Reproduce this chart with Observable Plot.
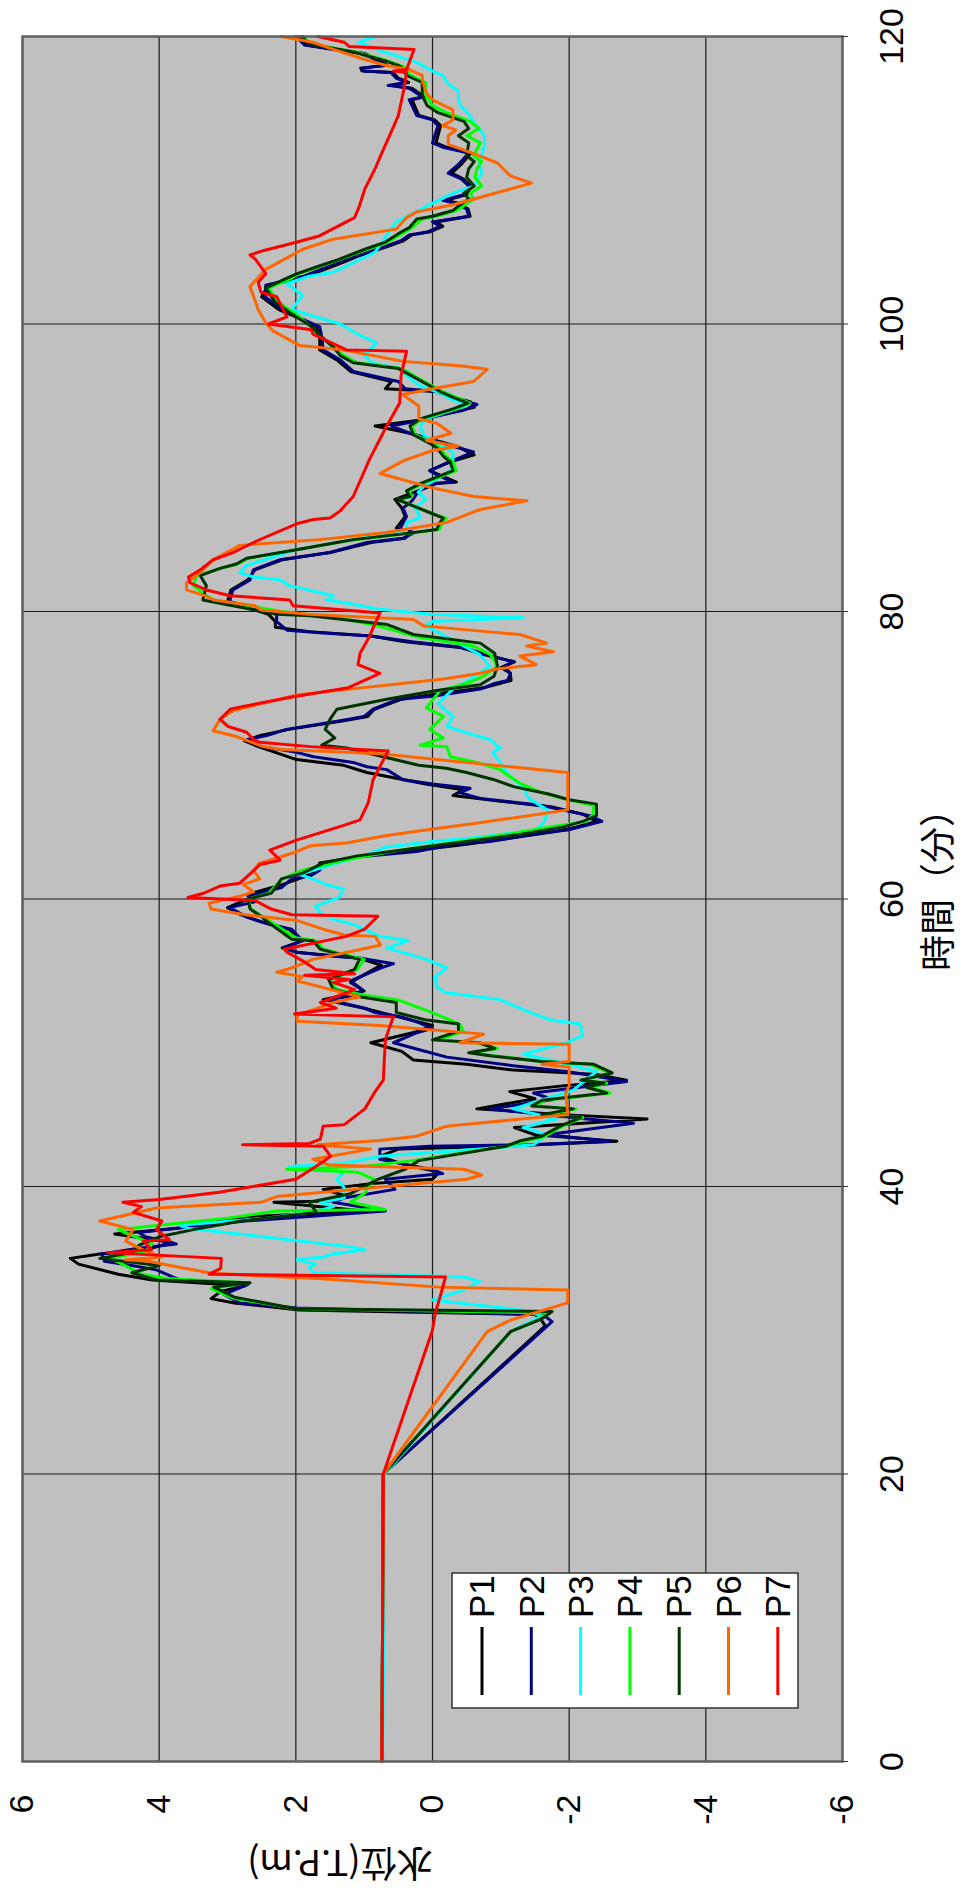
<!DOCTYPE html>
<html><head><meta charset="utf-8">
<script src="https://cdn.jsdelivr.net/npm/d3@7"></script>
<script src="https://cdn.jsdelivr.net/npm/@observablehq/plot@0.6"></script>
<style>
html,body{margin:0;padding:0;background:#fff;}
#page{position:relative;width:977px;height:1892px;overflow:hidden;background:#fff;}
#chart{position:absolute;left:0;top:0;width:1892px;height:977px;transform-origin:0 0;transform:translate(0px,1892px) rotate(-90deg);}
</style></head><body>
<div id="page"><div id="chart"></div></div>
<script>
const seriesNames = ["P1","P2","P3","P4","P5","P6","P7"];
const timeTicks = [0,20,40,60,80,100,120];
const levelTicks = [-6,-4,-2,0,2,4,6];
const xTitle = "時間（分）";
const yTitle = "水位(T.P.m)";

// [time (min), water level (T.P.m)]
const P1 = [[0,0.74],[10,0.73],[20,0.72],[30.3,-1.65],[30.8,-1.58],[31.1,-1.5],[31.4,1.95],[31.9,2.9],[32.2,3.24],[32.7,3.1],[33.1,2.74],[33.5,4.1],[33.9,4.6],[34.6,5.18],[35.0,5.3],[35.3,4.87],[35.6,4.2],[36.1,3.81],[36.7,4.65],[37.1,3.73],[37.9,2.67],[38.3,1.0],[38.9,2.32],[39.0,1.45],[39.4,1.3],[39.8,1.6],[40.2,0.9],[40.5,0.0],[41.0,-0.1],[41.5,0.4],[42.1,0.77],[42.6,0.5],[42.8,-1.0],[43.15,-2.7],[43.6,-1.5],[44.1,-1.2],[44.4,-2.2],[44.7,-3.14],[45.0,-1.9],[45.4,-0.65],[46.1,-1.5],[46.6,-1.13],[47.0,-1.9],[47.4,-2.84],[47.8,-2.4],[48.1,-1.18],[48.5,-0.5],[48.8,0.28],[49.4,0.45],[50.0,0.9],[50.4,0.55],[50.8,0.2],[51.2,0.0],[51.8,0.5],[52.4,1.0],[53.0,1.6],[53.6,1.0],[54.2,1.2],[55.0,0.9],[55.4,0.75],[55.9,1.1],[56.3,2.0],[56.6,2.2],[57.1,1.9],[57.9,2.1],[58.4,2.5],[58.9,2.8],[59.4,3.0],[60.0,2.7],[60.4,2.65],[61.0,2.2],[61.5,1.9],[62.0,1.7],[62.5,1.65],[63.0,1.0],[63.4,0.2],[63.8,-0.5],[64.2,-1.1],[64.7,-1.8],[65.0,-2.1],[65.4,-2.4],[65.9,-2.2],[66.4,-1.75],[66.8,-1.0],[67.2,-0.3],[67.6,-0.45],[68.0,0.1],[68.8,0.96],[69.3,1.3],[69.7,1.99],[70.2,2.3],[70.6,2.55],[71.0,2.75],[71.4,2.5],[71.8,2.1],[72.4,1.3],[72.7,0.95],[73.2,0.85],[73.9,0.45],[74.3,-0.1],[74.7,-0.75],[75.2,-1.15],[75.7,-1.14],[76.1,-1.0],[76.5,-1.2],[77.0,-0.75],[77.5,-0.4],[77.9,0.4],[78.3,0.9],[78.6,1.8],[78.9,2.3],[79.3,2.3],[79.8,2.4],[80.7,3.0],[81.5,2.95],[82.2,2.7],[82.9,2.6],[83.6,2.2],[84.1,1.5],[84.8,0.9],[85.1,0.4],[85.5,0.3],[85.8,0.53],[86.6,0.4],[87.2,0.45],[87.8,0.55],[88.4,0.2],[88.9,-0.05],[89.0,-0.35],[89.4,-0.15],[89.8,0.04],[90.4,-0.25],[90.9,-0.61],[91.5,-0.35],[92.4,0.33],[92.9,0.84],[93.3,0.2],[93.6,-0.05],[94.2,-0.61],[94.6,-0.55],[94.9,-0.3],[95.3,-0.05],[95.5,0.69],[96.0,0.6],[96.7,1.2],[97.5,1.4],[98.2,1.65],[99.1,1.65],[99.8,1.7],[100.2,1.85],[101.0,2.25],[101.9,2.5],[102.7,2.4],[103.3,1.85],[104.3,1.3],[104.7,1.1],[105.4,0.65],[105.8,0.42],[106.2,0.3],[106.4,0.05],[106.8,-0.15],[107.1,-0.05],[107.5,-0.55],[108.0,-0.52],[108.4,-0.38],[108.6,-0.2],[109.0,-0.5],[109.6,-0.56],[110.1,-0.45],[110.5,-0.28],[111.1,-0.42],[111.9,-0.56],[112.3,-0.2],[112.6,-0.05],[113.8,-0.12],[114.2,-0.03],[114.5,0.2],[115.6,0.3],[115.8,0.12],[116.4,0.3],[116.6,0.62],[116.8,0.35],[117.1,0.5],[117.5,0.58],[117.6,1.03],[117.8,1.05],[118.0,0.66],[118.8,0.98],[119.1,1.4],[119.4,1.85],[120.0,1.95]];

const P2 = [[0,0.74],[10,0.73],[20,0.72],[30.6,-1.75],[31.0,-1.64],[31.1,-1.55],[31.55,1.98],[31.9,2.82],[32.5,3.05],[33.2,2.7],[33.5,3.7],[34.2,4.04],[34.5,4.4],[34.8,4.8],[35.3,4.84],[35.7,4.3],[36.0,3.75],[36.5,4.2],[36.8,4.3],[37.1,3.75],[37.6,2.74],[38.3,0.69],[38.9,1.45],[39.2,1.3],[39.8,0.55],[40.5,0.69],[40.9,-0.15],[41.2,0.04],[41.9,0.77],[42.6,0.77],[42.8,0.04],[42.9,-1.43],[43.15,-2.6],[43.6,-1.67],[44.4,-2.94],[44.7,-2.26],[45.4,-0.84],[46.05,-1.77],[46.5,-1.48],[46.9,-2.16],[47.3,-2.84],[47.7,-2.35],[48.0,-1.96],[48.4,-1.18],[49.0,-0.21],[49.5,0.18],[50.0,0.57],[50.7,0.23],[51.0,0.0],[51.4,0.2],[51.8,0.46],[52.1,0.84],[52.4,0.99],[53.0,1.52],[53.3,1.1],[53.7,1.03],[54.3,1.2],[55.2,0.76],[55.5,0.57],[55.9,1.07],[56.0,1.41],[56.3,1.98],[56.6,2.17],[57.1,1.9],[57.9,2.06],[58.2,2.36],[58.7,2.7],[59.4,2.97],[59.8,2.6],[60.2,2.7],[60.8,2.21],[61.4,2.06],[61.6,1.79],[62.0,1.65],[62.3,1.68],[62.9,1.14],[63.3,0.23],[63.8,-0.3],[64.0,-0.84],[64.6,-1.6],[64.8,-1.98],[65.4,-2.48],[65.8,-2.3],[66.2,-1.9],[66.5,-1.6],[67.0,-0.7],[67.4,-0.4],[67.7,-0.55],[68.0,0.0],[68.3,0.43],[69.0,0.67],[69.2,0.96],[69.5,1.16],[69.9,1.74],[70.2,1.99],[70.6,2.5],[71.1,2.7],[71.4,2.4],[71.8,2.14],[72.4,1.35],[72.7,1.0],[73.2,0.87],[73.9,0.5],[74.1,0.0],[74.6,-0.7],[75.0,-0.91],[75.2,-1.1],[75.7,-1.14],[76.2,-1.05],[76.5,-1.18],[77.1,-0.72],[77.5,-0.45],[77.9,0.3],[78.3,0.9],[78.5,1.6],[78.7,2.13],[79.3,2.28],[79.8,2.28],[80.7,2.97],[81.5,2.92],[82.2,2.67],[82.9,2.62],[83.6,2.23],[84.1,1.5],[84.8,0.96],[85.1,0.43],[85.5,0.26],[85.7,0.48],[86.6,0.38],[87.2,0.43],[87.7,0.3],[88.4,0.2],[88.9,0.0],[89.0,-0.3],[89.4,-0.11],[89.8,0.04],[90.3,-0.2],[91.1,-0.6],[91.5,-0.3],[92.4,0.33],[92.9,0.6],[93.3,0.18],[93.6,-0.06],[94.0,-0.45],[94.4,-0.65],[94.9,-0.26],[95.3,-0.06],[95.5,0.4],[96.0,0.5],[96.7,1.16],[97.5,1.35],[98.2,1.6],[99.1,1.62],[99.8,1.65],[100.2,1.84],[101.0,2.2],[101.9,2.45],[102.7,2.44],[103.3,1.9],[104.3,1.37],[104.7,1.14],[105.4,0.69],[105.8,0.46],[106.2,0.34],[106.4,0.08],[106.8,-0.11],[107.1,0.0],[107.5,-0.53],[108.0,-0.5],[108.4,-0.34],[108.6,-0.15],[109.0,-0.46],[109.6,-0.53],[110.1,-0.42],[110.5,-0.23],[111.1,-0.38],[111.9,-0.53],[112.3,-0.15],[112.6,0.0],[113.8,-0.08],[114.2,0.0],[114.5,0.23],[115.6,0.34],[115.8,0.15],[116.4,0.34],[116.6,0.65],[116.8,0.38],[117.1,0.53],[117.5,0.61],[117.6,1.0],[117.8,1.03],[118.0,0.69],[118.8,1.0],[119.1,1.45],[119.4,1.87],[120.0,2.0]];

const P3 = [[0,0.73],[10,0.71],[20,0.70],[29.9,-1.14],[31.0,-1.6],[31.4,-1.3],[32.1,0.0],[32.8,-0.46],[33.4,-0.69],[33.7,-0.46],[34.0,1.75],[34.4,1.8],[34.6,1.71],[34.9,1.98],[35.1,1.6],[35.3,1.45],[35.6,0.99],[35.8,1.2],[37.1,3.58],[37.3,3.7],[37.8,2.44],[38.3,1.68],[38.6,1.45],[38.9,1.64],[39.2,1.29],[39.9,1.29],[40.5,1.4],[41.0,1.3],[41.4,2.09],[41.6,1.3],[42.1,0.77],[42.7,-0.94],[42.9,-1.48],[43.6,-1.67],[44.1,-1.33],[44.7,-1.82],[45.4,-1.18],[46.7,-2.06],[48.0,-2.4],[48.6,-1.9],[49.2,-1.33],[50.0,-1.96],[50.5,-2.2],[51.3,-2.16],[51.6,-1.72],[52.2,-1.38],[53.0,-0.99],[53.5,-0.18],[53.9,-0.06],[54.6,-0.04],[55.2,-0.21],[55.8,0.09],[56.6,0.67],[57.1,0.35],[57.4,0.77],[58.2,1.14],[58.6,1.45],[59.0,1.64],[59.5,1.71],[60.1,1.37],[60.7,1.3],[61.0,1.56],[61.4,1.75],[61.7,1.94],[62.5,1.4],[63.0,1.0],[63.6,0.69],[64.0,0.0],[64.3,-0.7],[64.8,-1.52],[65.4,-1.64],[66.2,-1.68],[67.0,-1.41],[67.7,-1.33],[68.7,-1.1],[69.5,-0.99],[70.2,-0.88],[70.5,-0.99],[71.1,-0.84],[71.4,-0.61],[72.0,-0.21],[72.7,-0.3],[73.6,-0.08],[74.6,-0.3],[75.0,-0.46],[76.2,-0.84],[77.0,-0.69],[78.0,-0.3],[79.0,0.1],[79.3,0.0],[79.57,-1.33],[79.8,0.0],[80.15,0.77],[80.5,1.16],[80.8,1.55],[81.1,1.45],[81.8,2.09],[82.2,2.23],[82.4,2.62],[82.7,2.82],[83.2,2.72],[84.3,1.99],[85.0,1.16],[85.6,0.38],[86.2,0.38],[86.5,0.18],[87.2,0.25],[87.8,0.1],[88.3,0.21],[88.7,0.13],[89.2,-0.06],[89.8,-0.26],[90.4,-0.3],[91.1,-0.3],[91.7,-0.06],[92.3,0.13],[92.9,0.18],[93.4,0.09],[93.8,-0.16],[94.3,-0.5],[94.8,-0.26],[95.2,-0.11],[95.7,0.18],[96.2,0.33],[96.9,0.48],[97.3,0.9],[97.8,1.0],[98.7,0.82],[99.3,1.1],[100.0,1.35],[101.0,2.06],[102.0,1.9],[102.8,2.13],[103.3,1.83],[103.6,1.45],[104.3,1.14],[105.0,0.84],[107.1,0.53],[108.2,0.08],[109.1,-0.3],[109.6,-0.61],[110.5,-0.72],[111.2,-0.69],[112.4,-0.76],[113.1,-0.76],[114.0,-0.61],[114.6,-0.53],[115.1,-0.42],[115.6,-0.38],[116.2,-0.38],[116.7,-0.23],[117.3,-0.15],[117.6,0.0],[118.2,0.23],[119.0,0.76],[119.6,1.07],[120.0,0.84]];

const P4 = [[0,0.74],[10,0.73],[20,0.72],[29.9,-1.14],[30.7,-1.55],[31.2,-1.7],[31.5,2.0],[32.2,2.9],[32.9,3.24],[33.3,2.7],[33.6,3.9],[33.9,4.26],[34.5,4.5],[35.0,4.7],[35.5,4.2],[36.0,4.1],[36.6,4.4],[37.0,4.6],[37.3,4.0],[37.8,3.0],[38.3,2.28],[38.4,0.69],[38.9,1.2],[39.5,1.0],[40.5,0.85],[41.0,1.1],[41.2,2.13],[41.4,1.0],[41.8,0.3],[42.8,-1.07],[43.2,-1.4],[43.5,-1.65],[44.2,-1.9],[44.8,-2.2],[45.0,-1.7],[45.4,-2.1],[45.6,-1.5],[46.0,-1.65],[46.5,-2.6],[46.9,-2.3],[47.2,-2.55],[47.4,-2.2],[47.9,-2.6],[48.5,-2.3],[48.7,-1.6],[49.1,-0.9],[49.3,-0.6],[49.6,-0.95],[50.0,-0.65],[50.2,-0.1],[50.8,-0.45],[51.3,-0.4],[52.2,0.06],[53.0,0.52],[53.3,1.0],[53.7,1.4],[54.4,1.5],[55.1,1.1],[55.8,1.0],[56.5,1.6],[57.1,1.7],[57.3,2.0],[58.5,2.4],[58.8,2.5],[59.3,2.65],[60.0,2.7],[60.4,2.4],[60.9,2.3],[61.4,2.2],[62.0,1.9],[62.7,1.3],[63.3,0.6],[63.8,-0.1],[64.5,-1.1],[65.0,-1.7],[65.4,-2.25],[65.9,-2.35],[66.5,-2.36],[67.0,-1.9],[67.4,-1.6],[68.0,-1.3],[68.6,-1.1],[69.0,-0.99],[69.5,-0.65],[69.9,-0.26],[70.6,-0.21],[70.7,0.18],[71.2,-0.16],[71.8,0.04],[72.7,-0.16],[73.3,0.09],[74.5,-0.11],[75.0,-0.5],[75.5,-0.75],[76.2,-0.95],[77.0,-0.85],[77.6,-0.6],[78.2,0.2],[79.0,0.8],[79.5,1.3],[80.0,2.2],[80.8,3.2],[81.1,3.3],[81.8,3.5],[82.5,3.45],[83.0,3.1],[83.3,2.85],[83.7,2.7],[84.3,2.0],[84.8,1.4],[85.0,1.1],[85.4,0.4],[85.7,-0.1],[86.2,-0.15],[86.5,-0.2],[86.8,0.0],[87.8,0.5],[88.0,0.3],[88.4,0.35],[88.9,0.15],[89.8,-0.35],[90.4,-0.3],[90.8,-0.2],[91.4,-0.1],[91.7,0.0],[92.3,0.25],[92.9,0.3],[93.4,0.15],[94.1,-0.35],[94.5,-0.55],[94.9,-0.35],[95.3,-0.15],[96.2,0.2],[96.9,0.45],[97.3,1.1],[97.8,1.3],[98.4,1.45],[99.2,1.65],[99.9,1.8],[100.5,1.95],[101.5,2.25],[102.5,2.4],[103.1,2.1],[103.5,1.95],[104.0,1.65],[104.5,1.35],[105.2,0.95],[105.7,0.65],[106.4,0.4],[106.7,0.3],[107.3,0.15],[107.5,-0.05],[107.9,-0.35],[108.2,-0.45],[108.7,-0.6],[109.1,-0.55],[109.6,-0.72],[110.2,-0.62],[110.8,-0.65],[111.3,-0.72],[111.7,-0.6],[112.6,-0.7],[113.1,-0.5],[113.6,-0.68],[114.1,-0.55],[114.7,-0.2],[115.2,0.0],[115.9,0.1],[116.8,0.1],[117.3,0.32],[117.9,0.42],[118.3,0.65],[118.9,1.1],[119.5,1.8],[120.0,1.88]];

const P5 = [[0,0.74],[10,0.73],[20,0.72],[29.9,-1.14],[30.8,-1.6],[31.3,-1.75],[31.5,2.0],[32.3,2.9],[33.0,3.2],[33.3,2.67],[33.5,4.04],[34.0,4.4],[34.5,4.0],[35.0,4.87],[35.4,4.4],[35.9,4.3],[36.5,4.0],[37.0,3.5],[37.6,2.8],[38.2,1.7],[38.9,1.8],[39.5,1.2],[40.5,0.8],[41.2,0.4],[41.8,0.2],[42.8,-1.07],[43.2,-1.3],[43.5,-1.6],[44.2,-1.87],[44.8,-2.17],[45.0,-1.6],[45.4,-2.06],[45.6,-1.45],[46.0,-1.6],[46.5,-2.55],[46.9,-2.25],[47.2,-2.51],[47.4,-2.17],[47.9,-2.63],[48.5,-2.36],[48.7,-1.6],[49.1,-0.84],[49.3,-0.53],[49.6,-0.91],[50.0,-0.69],[50.2,0.0],[50.8,-0.38],[51.3,-0.38],[51.6,0.11],[52.1,0.53],[52.8,0.53],[53.2,1.07],[53.7,1.45],[54.4,1.52],[55.1,1.14],[55.8,1.07],[56.5,1.64],[57.1,1.75],[57.2,2.06],[58.5,2.44],[58.8,2.51],[59.3,2.67],[60.0,2.7],[60.4,2.36],[60.9,2.28],[61.4,2.21],[61.8,1.9],[62.5,1.6],[63.0,1.1],[63.5,0.3],[64.0,-0.5],[64.5,-1.3],[65.0,-1.9],[65.4,-2.2],[65.8,-2.4],[66.6,-2.4],[66.9,-2.0],[67.3,-1.7],[67.8,-1.2],[68.3,-0.9],[68.8,-0.5],[69.1,-0.2],[69.3,0.2],[70.5,1.26],[70.7,1.62],[71.2,1.43],[71.8,1.57],[72.5,1.5],[73.2,1.4],[73.9,0.67],[74.5,-0.06],[74.9,-0.7],[75.5,-0.9],[76.2,-0.95],[77.1,-0.91],[77.8,-0.7],[78.4,0.28],[79.1,0.67],[79.7,1.79],[79.8,2.28],[80.8,3.36],[81.8,3.31],[82.5,3.4],[83.0,3.11],[83.3,2.87],[83.7,2.72],[84.3,1.99],[84.8,1.4],[85.0,1.16],[85.4,0.43],[85.7,-0.06],[86.2,-0.11],[86.5,-0.16],[86.8,0.0],[87.8,0.52],[88.0,0.33],[88.4,0.38],[88.9,0.18],[89.8,-0.3],[90.4,-0.26],[90.8,-0.16],[91.4,-0.06],[91.7,0.04],[92.3,0.28],[92.9,0.33],[93.4,0.18],[94.1,-0.3],[94.5,-0.52],[94.9,-0.3],[95.3,-0.11],[96.2,0.23],[96.9,0.5],[97.3,1.16],[97.8,1.35],[98.4,1.45],[99.2,1.65],[99.9,1.79],[100.5,2.0],[101.5,2.3],[102.5,2.44],[103.1,2.17],[103.5,1.98],[104.0,1.68],[104.5,1.37],[105.2,0.99],[105.7,0.69],[106.4,0.46],[106.7,0.34],[107.3,0.23],[107.5,0.0],[107.9,-0.3],[108.2,-0.38],[108.7,-0.53],[109.1,-0.46],[109.6,-0.61],[110.2,-0.5],[110.8,-0.53],[111.3,-0.61],[111.7,-0.5],[112.6,-0.53],[113.1,-0.38],[113.6,-0.53],[114.1,-0.46],[114.7,-0.08],[115.2,0.08],[115.9,0.15],[116.8,0.15],[117.3,0.38],[117.9,0.46],[118.3,0.69],[118.9,1.14],[119.5,1.83],[120.0,1.9]];

const P6 = [[0,0.74],[10,0.73],[20,0.72],[29.9,-0.8],[30.7,-1.14],[31.9,-1.98],[32.8,-1.98],[33.0,-0.1],[33.6,1.68],[33.75,2.44],[34.0,3.27],[34.4,3.73],[34.8,4.15],[34.9,4.49],[35.1,3.96],[35.5,4.2],[36.2,4.49],[37.0,4.38],[37.6,4.87],[38.5,4.04],[38.9,2.51],[39.3,2.28],[39.8,1.14],[40.5,-0.5],[40.8,-0.72],[41.2,-0.46],[41.5,1.52],[41.9,1.75],[42.6,0.91],[42.9,1.68],[43.2,0.77],[43.5,0.23],[44.2,-0.21],[45.0,-1.98],[46.5,-1.95],[47.0,-2.0],[48.3,-2.0],[48.5,-1.6],[48.7,-2.0],[49.9,-2.0],[50.0,-0.4],[50.6,-0.75],[51.2,0.77],[51.5,1.98],[51.9,1.98],[52.8,1.45],[53.2,1.07],[54.3,1.98],[54.6,1.9],[54.9,2.28],[55.2,2.06],[55.8,1.75],[56.4,1.14],[56.8,0.76],[57.4,0.84],[57.5,1.29],[57.9,1.6],[58.5,1.98],[58.9,2.74],[59.3,3.24],[59.7,3.27],[60.2,2.82],[60.5,2.62],[61.0,2.77],[61.4,2.53],[62.0,2.62],[62.5,2.53],[63.2,2.04],[63.7,1.79],[63.9,1.26],[64.4,0.69],[64.9,-0.06],[65.3,-0.69],[66.2,-1.98],[68.8,-1.98],[69.4,-0.7],[70.1,0.76],[70.4,2.21],[70.6,2.48],[71.3,2.87],[71.7,3.21],[72.5,3.11],[73.1,2.92],[74.2,1.99],[75.3,-0.16],[75.7,-0.7],[76.0,-0.94],[76.3,-1.52],[76.9,-1.28],[77.2,-1.77],[77.6,-1.38],[77.8,-1.67],[78.4,-1.28],[78.6,-0.79],[79.0,0.13],[79.45,0.28],[79.8,1.8],[80.1,2.51],[80.4,2.6],[80.8,3.2],[81.1,3.33],[81.5,3.6],[82.0,3.6],[82.7,3.4],[83.6,3.21],[84.6,2.82],[85.0,1.65],[85.5,0.67],[86.2,-0.21],[87.1,-0.7],[87.7,-1.38],[88.0,-0.6],[88.6,0.0],[89.6,0.77],[90.5,0.42],[91.2,0.0],[91.5,-0.37],[91.9,0.09],[92.4,-0.27],[93.1,-0.06],[93.4,0.2],[94.3,0.2],[95.1,0.44],[95.5,0.0],[96.0,-0.6],[96.85,-0.8],[97.1,-0.4],[97.4,0.43],[98.2,1.31],[98.5,1.94],[99.5,2.33],[100.0,2.43],[101.0,2.55],[102.6,2.67],[103.8,2.44],[105.2,1.9],[105.9,1.45],[106.6,0.53],[107.4,0.38],[107.8,0.23],[108.3,-0.3],[108.8,-0.69],[109.8,-1.45],[110.3,-1.14],[111.2,-0.95],[111.7,-0.69],[112.5,-0.23],[113.1,-0.23],[113.5,-0.34],[113.8,-0.15],[114.2,-0.3],[114.9,-0.3],[115.4,-0.08],[115.6,0.0],[116.0,0.08],[116.9,0.15],[117.3,0.15],[117.7,0.34],[118.0,0.69],[118.4,0.99],[119.1,1.45],[119.6,1.75],[120.0,2.21]];

const P7 = [[0,0.74],[10,0.73],[20,0.72],[30.0,0.0],[31.2,-0.04],[32.3,-0.11],[33.7,-0.19],[33.9,3.27],[34.3,3.1],[35.0,3.09],[35.4,4.76],[35.6,4.11],[36.2,4.23],[36.3,3.85],[37.0,4.04],[37.6,3.96],[38.2,4.38],[38.6,4.26],[38.9,4.53],[39.1,4.0],[39.6,3.12],[40.5,2.0],[41.6,1.64],[42.1,1.49],[42.8,1.6],[42.9,2.78],[43.0,1.8],[43.3,1.64],[44.2,1.6],[44.3,1.29],[45.4,0.99],[46.6,0.84],[47.4,0.72],[50.2,0.69],[51.6,0.59],[51.8,0.57],[52.0,2.02],[52.4,1.41],[52.8,1.64],[53.7,1.14],[54.2,1.45],[54.4,1.22],[54.7,1.87],[54.8,1.14],[55.1,1.71],[55.7,1.9],[56.3,2.13],[56.5,2.17],[57.4,1.26],[57.9,0.99],[58.8,0.8],[58.9,2.06],[59.3,2.36],[59.9,2.6],[60.1,3.58],[60.4,3.35],[60.9,3.11],[61.1,2.82],[62.4,2.52],[62.7,2.23],[63.4,2.38],[64.1,1.99],[65.1,1.31],[65.5,1.06],[66.7,0.94],[68.3,0.87],[70.3,0.65],[70.6,1.79],[70.9,2.53],[71.1,2.62],[71.6,2.72],[72.0,2.99],[72.5,3.11],[73.2,2.96],[73.4,2.77],[74.1,1.99],[74.7,1.23],[75.7,0.77],[76.3,1.09],[77.1,1.06],[78.1,0.94],[79.9,0.77],[80.4,2.04],[80.8,2.09],[81.1,2.96],[81.5,3.31],[82.0,3.55],[82.4,3.57],[82.9,3.4],[83.6,3.21],[84.1,2.92],[84.8,2.62],[85.2,2.43],[86.1,1.99],[86.4,1.74],[86.5,1.5],[87.0,1.35],[88.0,1.16],[90.6,0.92],[92.9,0.67],[94.5,0.48],[96.4,0.46],[98.1,0.38],[98.2,1.26],[99.3,1.75],[99.6,1.77],[100.0,2.4],[100.5,2.13],[101.9,2.28],[102.2,2.51],[102.9,2.55],[103.5,2.44],[104.5,2.59],[104.8,2.67],[105.1,2.48],[105.7,1.98],[106.1,1.67],[107.4,1.14],[108.2,1.07],[109.4,0.99],[110.8,0.84],[111.7,0.76],[113.3,0.61],[114.5,0.5],[116.3,0.42],[117.5,0.38],[117.6,0.57],[117.7,0.38],[118.2,0.34],[119.1,0.27],[119.3,1.22],[119.6,1.29],[120.0,1.68]];

const seriesData = [P1, P2, P3, P4, P5, P6, P7];
const seriesColors = ["#000000", "#000080", "#00ffff", "#00ff00", "#003300", "#ff6600", "#ff0000"];

const rows = seriesNames.flatMap((name, i) => seriesData[i].map(([t, v]) => ({name, t, v})));

const latin = "'Liberation Sans', Arial, sans-serif";
const jp = "'Noto Sans CJK JP', 'Noto Sans CJK SC', sans-serif";

const plot = Plot.plot({
  width: 1892,
  height: 977,
  marginLeft: 130,
  marginRight: 37,
  marginTop: 22,
  marginBottom: 135,
  style: {fontFamily: latin, fontSize: "34px", background: "#ffffff", color: "#000", overflow: "visible"},
  x: {domain: [0, 120]},
  y: {domain: [-6, 6]},
  marks: [
    Plot.frame({fill: "#c0c0c0", stroke: "none"}),
    Plot.gridX(timeTicks, {stroke: "#1a1a1a", strokeOpacity: 1, strokeWidth: 1.2}),
    Plot.gridY(levelTicks, {stroke: "#1a1a1a", strokeOpacity: 1, strokeWidth: 1.2}),
    ...seriesNames.map((name, i) => Plot.line(rows.filter(d => d.name === name), {
      x: "t", y: "v", stroke: seriesColors[i], strokeWidth: 3
    })),
    Plot.frame({stroke: "#606060", strokeWidth: 2.5}),
    Plot.axisX(timeTicks, {tickSize: 6, tickPadding: 30, fontSize: 34, label: null, stroke: "#333"}),
    Plot.axisY(levelTicks, {tickSize: 0, tickPadding: 33, fontSize: 34, label: null, tickFormat: d => String(d)}),
    Plot.text([xTitle], {text: d => d, frameAnchor: "bottom", dy: 108, dx: 18, fontSize: 36, fontFamily: jp, fill: "#000"}),
    Plot.text([yTitle], {text: d => d, frameAnchor: "left", dx: -100, rotate: -90, fontSize: 36, fontFamily: jp, fill: "#000"})
  ]
});

// Legend (box at the low-level, early-time corner of the plot area)
const svg = d3.select(plot);
const lg = svg.append("g").attr("class", "legend").attr("text-anchor", "start");
const bx = 184, by = 452, bw = 135, bh = 346;
lg.append("rect").attr("x", bx).attr("y", by).attr("width", bw).attr("height", bh)
  .attr("fill", "#ffffff").attr("stroke", "#333").attr("stroke-width", 1.5);
seriesNames.forEach((name, i) => {
  const cy = by + 30 + i * 49.3;
  lg.append("line").attr("x1", bx + 13).attr("x2", bx + 81).attr("y1", cy).attr("y2", cy)
    .attr("stroke", seriesColors[i]).attr("stroke-width", 3);
  lg.append("text").attr("x", bx + 90).attr("y", cy).attr("dy", "0.35em")
    .attr("text-anchor", "start")
    .attr("font-size", 35).attr("font-family", latin).attr("fill", "#000").text(name);
});

document.getElementById("chart").appendChild(plot);
</script>
</body></html>
